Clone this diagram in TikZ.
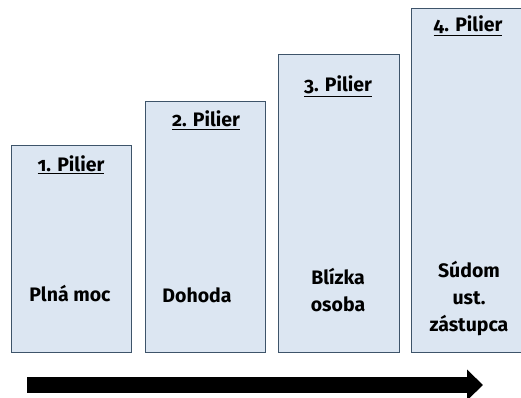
\documentclass[tikz,border=0pt]{standalone}
\usepackage{fontspec}
\setmainfont{Fira Sans}[Numbers=OldStyle]
\usetikzlibrary{arrows.meta, positioning}
\definecolor{pillarfill}{RGB}{220, 230, 242}
\definecolor{pillarline}{RGB}{62, 84, 106}

\begin{document}
\begin{tikzpicture}[x=1pt, y=-1pt,
  pillar/.style={draw=pillarline, fill=pillarfill, line width=1pt, anchor=north west, minimum width=120pt, inner sep=0pt},
  pillarhead/.style={font=\fontsize{19.5}{27}\selectfont\bfseries, anchor=base, inner sep=0pt},
  pillartext/.style={font=\fontsize{19.5}{27}\selectfont\bfseries, align=center, anchor=base, inner sep=0pt}]
  \useasboundingbox (0,0) rectangle (521,398);
  \clip (0,0) rectangle (521,398);

  % the four pillars, growing to the right
  \node[pillar, minimum height=207pt] (p1) at (11, 145) {};
  \node[pillar, minimum height=251pt] (p2) at (145, 101) {};
  \node[pillar, minimum height=298pt, minimum width=121pt] (p3) at (278, 54) {};
  \node[pillar, minimum height=344pt] (p4) at (411, 8) {};

  % headings
  \node[pillarhead] (h1) at (71, 171) {\underline{1. Pilier}};
  \node[pillarhead] (h2) at (206, 127) {\underline{2. Pilier}};
  \node[pillarhead] (h3) at (338, 92) {\underline{3. Pilier}};
  \node[pillarhead] (h4) at (468, 32) {\underline{4. Pilier}};

  % contents (base = last line)
  \node[pillartext] (t1) at (70, 301) {Plná moc};
  \node[pillartext] (t2) at (197, 302) {Dohoda};
  \node[pillartext] (t3) at (338, 311) {Blízka\\osoba};
  \node[pillartext] (t4) at (469, 331) {Súdom\\ust.\\zástupca};

  % arrow below
  \coordinate (arrowstart) at (27, 385);
  \coordinate (arrowend) at (483, 385);
  \draw[line width=16pt, -{Triangle[length=16pt, width=30pt]}] (arrowstart) -- (arrowend);
\end{tikzpicture}
\end{document}
